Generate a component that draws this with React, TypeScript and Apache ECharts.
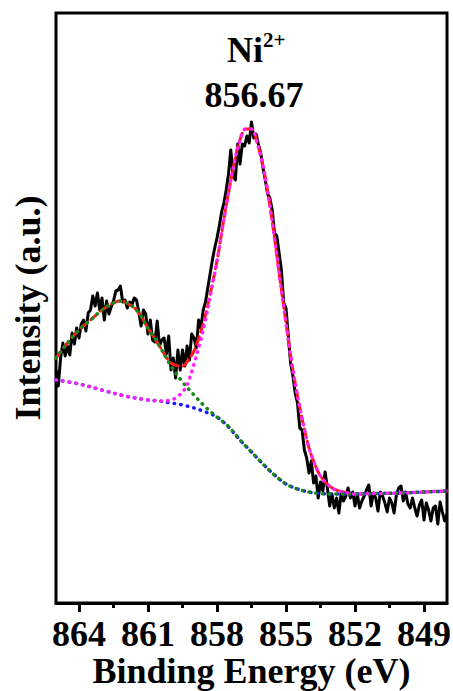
import React, { useEffect, useRef } from "react";
import * as echarts from "echarts";

const FONT = '"Liberation Serif", "Times New Roman", Times, serif';

// Ni 2p3/2 raw spectrum, sampled every 0.1 eV from 865 eV down to 848 eV
const rawStartEV = 865;
const rawStepEV = 0.1;
const rawCounts = [
  233, 217, 245, 260, 247, 257, 248, 270, 259, 275,
  265, 279, 283, 272, 290, 293, 307, 297, 310, 293,
  305, 283, 302, 289, 296, 302, 312, 313, 317, 301,
  303, 295, 301, 298, 305, 303, 291, 277, 293, 289,
  269, 283, 263, 261, 282, 257, 263, 265, 249, 267,
  233, 245, 225, 253, 233, 253, 237, 257, 243, 269,
  265, 255, 283, 275, 293, 301, 315, 329, 343, 355,
  365, 377, 391, 400, 413, 429, 453, 427, 423, 459,
  439, 459, 457, 467, 460, 481, 465, 469, 459, 450,
  435, 423, 409, 405, 393, 370, 367, 350, 333, 300,
  295, 267, 240, 227, 210, 200, 175, 173, 153, 145,
  130, 142, 120, 127, 105, 121, 112, 131, 115, 97,
  109, 95, 105, 90, 110, 102, 107, 115, 105, 111,
  97, 109, 95, 102, 107, 113, 118, 97, 110, 105,
  92, 111, 107, 100, 91, 105, 100, 90, 108, 115,
  117, 102, 111, 99, 95, 105, 95, 87, 98, 103,
  83, 100, 93, 82, 95, 97, 79, 101, 91, 82,
  89,
];

// Axis ticks (binding energy, eV)
const majorTicks = [864, 861, 858, 855, 852, 849];
const minorTicks = [862.5, 859.5, 856.5, 853.5, 850.5];

// Fitted curves: [binding energy, intensity]
const envelopeFit = [
  [865, 245], [864.5, 260], [864, 273], [863.5, 283], [863, 293], [862.5, 300],
  [862.2, 302], [862, 301], [861.5, 293], [861, 275], [860.5, 257], [860, 240],
  [859.5, 237], [859.25, 243], [859, 252], [858.75, 268], [858.5, 288],
  [858.25, 314], [858, 342], [857.75, 377], [857.5, 410], [857.25, 440],
  [857, 463], [856.75, 474], [856.5, 474], [856.25, 460], [856, 437],
  [855.75, 405], [855.5, 365], [855.25, 322], [855, 280], [854.75, 240],
  [854.5, 207], [854.25, 179], [854, 155], [853.75, 139], [853.5, 127],
  [853, 115], [852.5, 111], [852, 109], [851, 109.5], [850, 110], [849, 111],
  [848, 112],
];

const mainPeakFit = [
  [865, 223], [864, 219], [863, 213], [862, 207], [861, 203], [860.5, 202],
  [860, 203], [859.5, 211], [859.25, 221], [859, 239], [858.75, 259],
  [858.5, 283], [858.25, 312], [858, 342], [857.75, 377], [857.5, 410],
  [857.25, 440], [857, 463], [856.75, 474], [856.5, 474], [856.25, 460],
  [856, 437], [855.75, 405], [855.5, 365], [855.25, 322], [855, 280],
  [854.75, 240], [854.5, 207], [854.25, 179], [854, 155], [853.75, 139],
  [853.5, 127], [853, 115], [852.5, 111], [852, 109], [851, 109.5],
  [850, 110], [849, 111], [848, 112],
];

const satelliteFit = [
  [865, 245], [864.5, 260], [864, 273], [863.5, 283], [863, 293], [862.5, 300],
  [862.2, 302], [862, 301], [861.5, 293], [861, 275], [860.5, 257], [860, 237],
  [859.5, 221], [859, 208], [858.5, 196], [858, 186], [857.5, 176.5],
  [857, 163], [856.5, 151], [856, 139], [855.5, 128], [855, 119], [854.5, 114],
  [854, 111], [853.5, 109.5], [853, 109], [852, 109], [851, 109.5], [850, 110],
  [849, 111], [848, 112],
];

const backgroundFit = [
  [865, 223], [864, 219], [863, 213], [862, 207], [861, 203], [860.5, 202],
  [860, 200], [859.5, 198], [859, 195], [858.5, 191], [858, 186], [857.5, 176],
  [857, 163], [856.5, 151], [856, 139], [855.5, 128], [855, 119], [854.5, 114],
  [854, 111], [853.5, 109.5], [853, 109], [852, 109], [851, 109.5], [850, 110],
  [849, 111], [848, 112],
];

const peakLabel = "856.67";

const boldText = {
  fontFamily: FONT,
  fontWeight: "bold" as const,
  color: "#000",
};

function fitSeries(name: string, data: number[][], color: string, dash: number[], width: number, z: number) {
  return {
    name,
    type: "line",
    data,
    smooth: 0.35,
    showSymbol: false,
    symbol: "none",
    z,
    lineStyle: { color, width, type: dash, cap: "round" },
  };
}

export default function App() {
  const ref = useRef<HTMLDivElement>(null);

  useEffect(() => {
    if (!ref.current) return;
    const chart = echarts.init(ref.current, undefined, {
      renderer: "svg",
      width: 453,
      height: 691,
    });
    const raw = rawCounts.map((v, i) => [
      +(rawStartEV - i * rawStepEV).toFixed(2),
      v,
    ]);

    chart.setOption({
      animation: false,
      backgroundColor: "#fff",
      grid: {
        left: 56,
        right: 6,
        top: 13,
        bottom: 88,
        show: true,
        borderColor: "#000",
        borderWidth: 3,
        containLabel: false,
        outerBoundsMode: "none",
      },
      xAxis: [
        {
          type: "value",
          min: 848,
          max: 865,
          inverse: true,
          position: "bottom",
          axisLine: { show: true, onZero: false, lineStyle: { color: "#000", width: 3 } },
          axisTick: {
            show: true,
            inside: false,
            length: 9,
            customValues: majorTicks,
            lineStyle: { color: "#000", width: 3 },
          },
          axisLabel: {
            customValues: majorTicks,
            margin: 13,
            fontSize: 36,
            ...boldText,
          },
          splitLine: { show: false },
          name: "Binding Energy (eV)",
          nameLocation: "middle",
          nameGap: 50,
          nameMoveOverlap: false,
          nameTextStyle: { fontSize: 36, ...boldText },
        },
        {
          type: "value",
          min: 848,
          max: 865,
          inverse: true,
          position: "bottom",
          axisLine: { show: false },
          axisTick: {
            show: true,
            inside: false,
            length: 5,
            customValues: minorTicks,
            lineStyle: { color: "#000", width: 3 },
          },
          axisLabel: { show: false },
          splitLine: { show: false },
        },
      ],
      yAxis: {
        type: "value",
        min: 0,
        max: 590,
        axisLine: { show: false },
        axisTick: { show: false },
        axisLabel: { show: false },
        splitLine: { show: false },
        name: "Intensity (a.u.)",
        nameLocation: "middle",
        nameGap: 10,
        nameMoveOverlap: false,
        nameTextStyle: { fontSize: 36, ...boldText },
      },
      graphic: [
        {
          type: "text",
          x: 245,
          y: 50,
          style: {
            text: "Ni",
            fill: "#000",
            font: `bold 36px ${FONT}`,
            align: "center",
            textAlign: "center",
            verticalAlign: "middle",
            textVerticalAlign: "middle",
          },
        },
        {
          type: "text",
          x: 263,
          y: 40,
          style: {
            text: "2+",
            fill: "#000",
            font: `bold 21px ${FONT}`,
            align: "left",
            textAlign: "left",
            verticalAlign: "middle",
            textVerticalAlign: "middle",
          },
        },
        {
          type: "text",
          x: 254,
          y: 95,
          style: {
            text: peakLabel,
            fill: "#000",
            font: `bold 36px ${FONT}`,
            align: "center",
            textAlign: "center",
            verticalAlign: "middle",
            textVerticalAlign: "middle",
          },
        },
      ],
      series: [
        {
          name: "Raw",
          type: "line",
          data: raw,
          showSymbol: false,
          symbol: "none",
          z: 1,
          lineStyle: { color: "#000", width: 3, join: "round" },
        },
        fitSeries("Envelope", envelopeFit, "#ff1a1a", [8, 5], 3, 2),
        fitSeries("Background", backgroundFit, "#1a1aff", [0.5, 6.2], 3.5, 3),
        fitSeries("Satellite", satelliteFit, "#178a17", [0.5, 6.2], 3.5, 4),
        fitSeries("Ni2+", mainPeakFit, "#ff22ff", [0.5, 6.2], 3.5, 5),
      ],
    });

    return () => chart.dispose();
  }, []);

  return (
    <div
      ref={ref}
      style={{
        position: "fixed",
        left: 0,
        top: 0,
        width: "453px",
        height: "691px",
        margin: 0,
      }}
    />
  );
}
